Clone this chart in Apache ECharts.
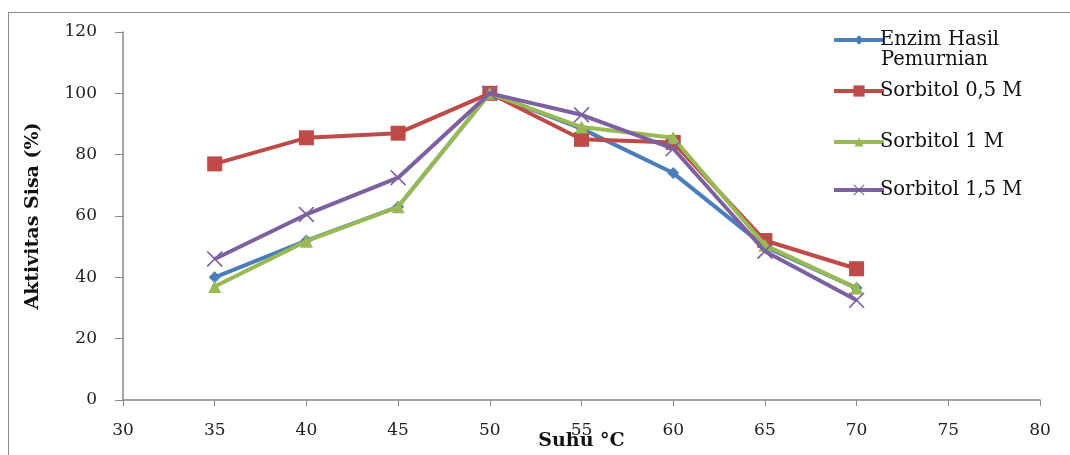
<!DOCTYPE html>
<html>
<head>
<meta charset="utf-8">
<script src="https://cdn.jsdelivr.net/npm/echarts@6/dist/echarts.min.js"></script>
<style>
html,body{margin:0;padding:0;background:#fff;}
#frame{position:absolute;left:8px;top:12px;width:1100px;height:460px;border:1px solid #8c8c8c;box-sizing:border-box;}
#chart{position:absolute;left:0;top:0;width:1070px;height:455px;}
</style>
</head>
<body>
<div id="frame"></div>
<div id="chart"></div>
<script>
const suhu = [35, 40, 45, 50, 55, 60, 65, 70];
const enzimHasil = [40, 52, 63, 100, 88.5, 74, 50, 36.5];
const sorbitol05 = [77, 85.5, 87, 100, 85, 84, 52, 42.8];
const sorbitol1 = [37, 51.8, 63, 100, 89, 85.5, 50.5, 36.5];
const sorbitol15 = [46, 60.5, 72.5, 100, 93, 82, 48.5, 32.5];
const seriesNames = ['Enzim Hasil Pemurnian', 'Sorbitol 0,5 M', 'Sorbitol 1 M', 'Sorbitol 1,5 M'];
const legendLabels = ['Enzim Hasil', 'Sorbitol 0,5 M', 'Sorbitol 1 M', 'Sorbitol 1,5 M'];
const legendSecondLine = 'Pemurnian';
const xTicks = {min: 30, max: 80, interval: 5};
const yTicks = {min: 0, max: 120, interval: 20};

const colors = ['#4A7EBB', '#BE4B48', '#98B954', '#7D60A0'];
const xPath = 'path://M0,1L1,0L7,6L13,0L14,1L8,7L14,13L13,14L7,8L1,14L0,13L6,7Z';
const symbols = ['diamond', 'rect', 'triangle', xPath];
const symSizes = [12, 15, 13, 16];
const datasets = [enzimHasil, sorbitol05, sorbitol1, sorbitol15];
const legendTops = [24, 75, 126, 174];
const legendIconH = [12, 14, 11, 14];
const tickFont = 'DejaVu Serif';
const titleFont = 'DejaVu Serif';

const chart = echarts.init(document.getElementById('chart'));
chart.setOption({
  backgroundColor: 'transparent',
  animation: false,
  grid: {left: 123, right: 30, top: 32, bottom: 55, containLabel: false, outerBoundsMode: 'none'},
  legend: seriesNames.map((n, i) => ({
    data: [n],
    left: 827,
    top: legendTops[i],
    orient: 'vertical',
    itemWidth: 50,
    itemHeight: legendIconH[i],
    itemGap: 0,
    formatter: () => legendLabels[i],
    lineStyle: {width: 4},
    textStyle: {fontFamily: tickFont, fontSize: 19.5, color: '#111', lineHeight: 22, padding: [0, 0, 0, -9]},
    selectedMode: false
  })),
  graphic: [{
    type: 'text',
    left: 881,
    top: 50,
    style: {text: legendSecondLine, fontFamily: tickFont, fontSize: 19.5, fill: '#111'}
  }],
  xAxis: {
    type: 'value',
    min: xTicks.min, max: xTicks.max, interval: xTicks.interval,
    name: 'Suhu °C',
    nameLocation: 'middle',
    nameGap: 32,
    nameMoveOverlap: false,
    nameTextStyle: {fontFamily: titleFont, fontSize: 19, fontWeight: 'bold', color: '#111'},
    axisLine: {show: true, onZero: false, lineStyle: {color: '#888', width: 1.5}},
    axisTick: {show: true, length: 6, lineStyle: {color: '#888'}},
    axisLabel: {fontFamily: tickFont, fontSize: 17, color: '#222', margin: 22},
    splitLine: {show: false}
  },
  yAxis: {
    type: 'value',
    min: yTicks.min, max: yTicks.max, interval: yTicks.interval,
    name: 'Aktivitas Sisa (%)',
    nameLocation: 'middle',
    nameGap: 80,
    nameMoveOverlap: false,
    nameRotate: 90,
    nameTextStyle: {fontFamily: titleFont, fontSize: 19, fontWeight: 'bold', color: '#111'},
    axisLine: {show: true, lineStyle: {color: '#888', width: 1.5}},
    axisTick: {show: true, length: 8, lineStyle: {color: '#888'}},
    axisLabel: {fontFamily: tickFont, fontSize: 17, color: '#222', margin: 26},
    splitLine: {show: false}
  },
  series: datasets.map((d, i) => ({
    name: seriesNames[i],
    type: 'line',
    data: suhu.map((x, j) => [x, d[j]]),
    symbol: symbols[i],
    symbolSize: symSizes[i],
    showAllSymbol: true,
    lineStyle: {color: colors[i], width: 4},
    itemStyle: {color: colors[i], opacity: 1},
    emphasis: {disabled: true},
    z: 2 + i
  }))
});
</script>
</body>
</html>
